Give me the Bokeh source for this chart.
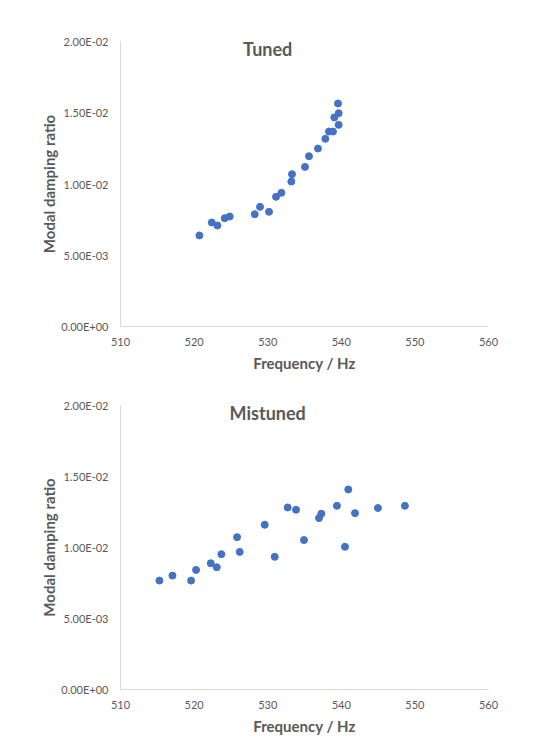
from bokeh.plotting import figure
from bokeh.layouts import column
from bokeh.models import Range1d, FixedTicker, CustomJSTickFormatter, Label, ColumnDataSource
from bokeh.embed import file_html
from bokeh.resources import INLINE

# ---- data ----
tuned_freq = [520.72, 522.40, 523.17, 524.16, 524.84, 528.24, 528.96, 530.18, 531.13, 531.86,
              533.21, 533.30, 535.07, 535.61, 536.83, 537.83, 538.33, 538.87, 539.05, 539.64,
              539.55, 539.64]
tuned_damp = [0.00639, 0.00730, 0.00709, 0.00760, 0.00772, 0.00788, 0.00840, 0.00805, 0.00910, 0.00938,
              0.01017, 0.01069, 0.01120, 0.01195, 0.01249, 0.01317, 0.01368, 0.01368, 0.01467, 0.01497,
              0.01565, 0.01415]

mistuned_freq = [515.29, 517.06, 519.59, 520.27, 522.26, 523.08, 523.71, 525.84, 526.20, 529.59,
                 530.95, 532.71, 533.85, 534.93, 536.97, 537.29, 539.41, 540.50, 540.95, 541.86,
                 544.98, 548.64]
mistuned_damp = [0.00767, 0.00802, 0.00767, 0.00842, 0.00889, 0.00861, 0.00953, 0.01073, 0.00969, 0.01160,
                 0.00934, 0.01282, 0.01266, 0.01052, 0.01207, 0.01238, 0.01294, 0.01005, 0.01409, 0.01242,
                 0.01278, 0.01294]

x_ticks = [510, 520, 530, 540, 550, 560]
y_ticks = [0.0, 0.005, 0.01, 0.015, 0.02]
titles = ["Tuned", "Mistuned"]
x_label = "Frequency / Hz"
y_label = "Modal damping ratio"

FONT = "Lato"
GREY = "#595959"
AXIS_GREY = "#d9d9d9"
BLUE = "#4472C4"

fmt_code = """
var s = tick.toExponential(2);
var parts = s.split('e');
var e = parseInt(parts[1]);
var sign = e < 0 ? '-' : '+';
var a = Math.abs(e);
return parts[0] + 'E' + sign + (a < 10 ? '0' : '') + a;
"""


def make_plot(xs, ys, title, top, bottom, fh):
    p = figure(frame_width=368, frame_height=fh, output_backend="svg", toolbar_location=None,
               x_range=Range1d(x_ticks[0], x_ticks[-1]), y_range=Range1d(y_ticks[0], y_ticks[-1]),
               min_border_left=120, min_border_right=52, min_border_top=top, min_border_bottom=bottom)
    p.outline_line_color = None
    p.grid.visible = False
    p.background_fill_color = "white"
    p.border_fill_color = "white"

    src = ColumnDataSource(dict(x=xs, y=ys))
    p.scatter("x", "y", source=src, size=7, fill_color=BLUE, line_color=BLUE)

    p.xaxis.ticker = FixedTicker(ticks=x_ticks)
    p.yaxis.ticker = FixedTicker(ticks=y_ticks)
    p.yaxis.formatter = CustomJSTickFormatter(code=fmt_code)
    for ax in (p.xaxis[0], p.yaxis[0]):
        ax.axis_line_color = AXIS_GREY
        ax.axis_line_width = 1
        ax.major_tick_line_color = None
        ax.minor_tick_line_color = None
        ax.major_label_text_font = FONT
        ax.major_label_text_font_size = "11px"
        ax.major_label_text_color = GREY
        ax.axis_label_text_font = FONT
        ax.axis_label_text_font_size = "15px"
        ax.axis_label_text_font_style = "bold"
        ax.axis_label_text_color = GREY
    p.xaxis.axis_label = x_label
    p.yaxis.axis_label = y_label
    p.xaxis.major_label_standoff = 5
    p.yaxis.major_label_standoff = 6
    p.xaxis.axis_label_standoff = 5
    p.yaxis.axis_label_standoff = 0

    lbl = Label(x=530, y=0.01944, text=title, text_align="center", text_baseline="middle",
                text_font=FONT, text_font_size="18px", text_font_style="bold", text_color=GREY)
    p.add_layout(lbl)
    return p


p1 = make_plot(tuned_freq, tuned_damp, titles[0], 41, 52, 285)
p2 = make_plot(mistuned_freq, mistuned_damp, titles[1], 27, 62, 284)

layout = column(p1, p2)
open("out.html", "w").write(file_html(layout, INLINE))
